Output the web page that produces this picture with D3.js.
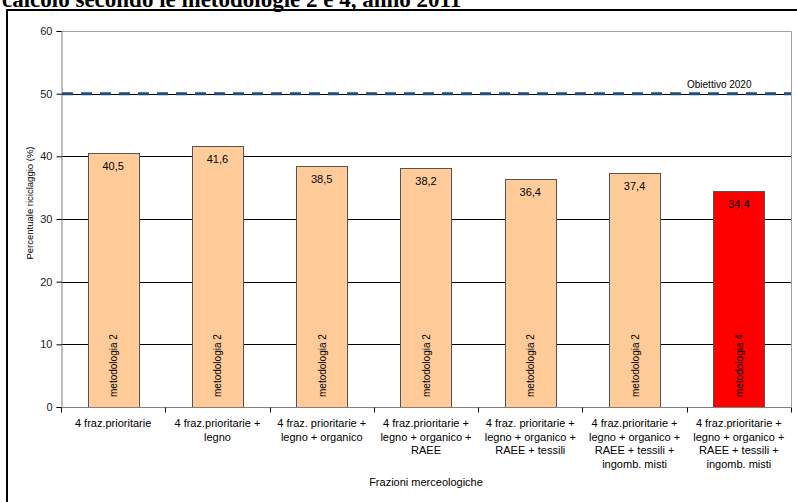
<!DOCTYPE html>
<html><head><meta charset="utf-8">
<script src="https://cdn.jsdelivr.net/npm/d3@7"></script>
<style>body{margin:0;background:#fff}svg{display:block}</style>
</head><body>
<script>
const categories = [
  ["4 fraz.prioritarie"],
  ["4 fraz.prioritarie +","legno"],
  ["4 fraz. prioritarie +","legno + organico"],
  ["4 fraz.prioritarie +","legno + organico +","RAEE"],
  ["4 fraz. prioritarie +","legno + organico +","RAEE + tessili"],
  ["4 fraz.prioritarie +","legno + organico +","RAEE + tessili +","ingomb. misti"],
  ["4 fraz.prioritarie +","legno + organico +","RAEE + tessili +","ingomb. misti"]
];
const values = [40.5, 41.6, 38.5, 38.2, 36.4, 37.4, 34.4];
const methods = ["metodologia 2","metodologia 2","metodologia 2","metodologia 2","metodologia 2","metodologia 2","metodologia 4"];
const yTicks = [0,10,20,30,40,50,60];
const target = 50;
const targetLabel = "Obiettivo 2020";
const title = "calcolo secondo le metodologie 2 e 4, anno 2011";
const yTitle = "Percentuale riciclaggio (%)";
const xTitle = "Frazioni merceologiche";

const W = 797, H = 502;
const svg = d3.select("body").append("svg").attr("width", W).attr("height", H)
  .style("font-family", "Arial, 'Liberation Sans', sans-serif");

// outer frame (extends past right and bottom edges as in the reference)
svg.append("rect").attr("x", 7).attr("y", 10).attr("width", 800).attr("height", 500)
  .attr("fill", "#fff").attr("stroke", "#000").attr("stroke-width", 2);

const L = 61, R = 791, T = 31, B = 407;
const x = d3.scaleBand().domain(d3.range(categories.length)).range([L, R]).paddingInner(0.51).paddingOuter(0.255);
const xb = d3.scaleBand().domain(d3.range(categories.length)).range([L, R]);
const y = d3.scaleLinear().domain([0, 60]).range([B, T]);

// plot border (top/right gray)
svg.append("path").attr("d", `M${L},${T + 0.5}H${R + 0.5}V${B}`).attr("fill", "none").attr("stroke", "#a0a0a0").attr("stroke-width", 1);

// gridlines
svg.append("g").selectAll("line").data(yTicks.filter(d => d > 0 && d < 60)).join("line")
  .attr("x1", L).attr("x2", R).attr("y1", d => Math.round(y(d)) + 0.5).attr("y2", d => Math.round(y(d)) + 0.5)
  .attr("stroke", "#000").attr("stroke-width", 1);

// y axis
const ya = svg.append("g").attr("transform", `translate(${L + 0.5},0)`)
  .call(d3.axisLeft(y).tickValues(yTicks).tickSize(5).tickPadding(4).tickFormat(d3.format("d")));
ya.select(".domain").attr("stroke", "#808080");
ya.selectAll(".tick line").attr("stroke", "#000");
ya.selectAll("text").style("font-size", "11px").style("font-family", "Arial, 'Liberation Sans', sans-serif").attr("fill", "#222");

// bars
svg.append("g").selectAll("rect").data(values).join("rect")
  .attr("x", (d, i) => Math.round(x(i)) + 0.5).attr("y", d => Math.round(y(d)) + 0.5)
  .attr("width", Math.round(x.bandwidth())).attr("height", d => B - Math.round(y(d)))
  .attr("fill", (d, i) => i === values.length - 1 ? "#ff0000" : "#ffcc99")
  .attr("stroke", "#555").attr("stroke-width", 1);

// x axis
const xa = svg.append("g").attr("transform", `translate(0,${B + 0.5})`);
xa.append("line").attr("x1", L).attr("x2", R).attr("stroke", "#808080");
xa.selectAll("line.t").data(d3.range(categories.length + 1)).join("line").attr("class", "t")
  .attr("x1", i => Math.round(L + i * xb.step()) + 0.5).attr("x2", i => Math.round(L + i * xb.step()) + 0.5)
  .attr("y1", 0).attr("y2", 5).attr("stroke", "#000");

// value labels
svg.append("g").selectAll("text").data(values).join("text")
  .attr("x", (d, i) => x(i) + x.bandwidth() / 2).attr("y", d => y(d) + 17)
  .attr("text-anchor", "middle").style("font-size", "11px").text(d => d3.format(".1f")(d).replace(".", ","));

// method labels
svg.append("g").selectAll("text").data(methods).join("text")
  .attr("transform", (d, i) => `translate(${x(i) + x.bandwidth() / 2 + 4},${B - 10}) rotate(-90)`)
  .style("font-size", "10px").text(d => d);

// target line
svg.append("line").attr("x1", L + 1).attr("x2", R).attr("y1", y(target)).attr("y2", y(target))
  .attr("stroke", "#1f4e79").attr("stroke-width", 3).attr("stroke-dasharray", "11,8");
svg.append("text").attr("x", 687).attr("y", y(target) - 6).style("font-size", "10px").text(targetLabel);

// category labels
const cl = svg.append("g").selectAll("text").data(categories).join("text")
  .attr("text-anchor", "middle").style("font-size", "11px");
cl.each(function(lines, i) {
  d3.select(this).selectAll("tspan").data(lines).join("tspan")
    .attr("x", xb(i) + xb.bandwidth() / 2).attr("y", (d, j) => 427 + j * 13.5).text(d => d);
});

// axis titles
svg.append("text").attr("transform", `translate(33,203) rotate(-90)`).attr("text-anchor", "middle")
  .style("font-size", "9.5px").text(yTitle);
svg.append("text").attr("x", 426).attr("y", 486).attr("text-anchor", "middle").style("font-size", "11px").text(xTitle);

// title (cut at the top edge as in the reference)
svg.append("text").attr("x", 2).attr("y", 7)
  .style("font-family", "'Times New Roman', 'Liberation Serif', serif")
  .style("font-weight", "bold").style("font-size", "23px").text(title);
</script>
</body></html>
